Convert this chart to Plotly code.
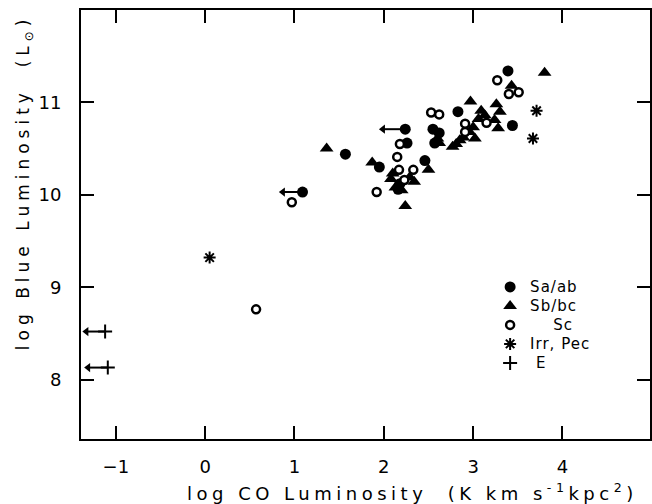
import plotly.graph_objects as go

# ---- data ----
sa_x = [1.09, 1.57, 1.95, 2.24, 2.26, 2.46, 2.18, 2.16, 2.55, 2.62, 2.57, 2.83, 3.39, 3.44]
sa_y = [10.03, 10.44, 10.30, 10.71, 10.56, 10.37, 10.12, 10.06, 10.71, 10.67, 10.56, 10.90, 11.34, 10.75]

sb_x = [1.36, 1.87, 2.10, 2.08, 2.29, 2.34, 2.20, 2.13, 2.24, 2.50, 2.62, 2.60, 2.77, 2.81, 2.85,
        2.89, 3.02, 2.96, 3.00, 2.97, 3.06, 3.09, 3.13, 3.24, 3.28, 3.26, 3.30, 3.43, 3.80]
sb_y = [10.50, 10.35, 10.23, 10.17, 10.19, 10.14, 10.05, 10.08, 9.88, 10.27, 10.56, 10.61, 10.52, 10.55, 10.59,
        10.62, 10.61, 10.68, 10.73, 11.01, 10.82, 10.91, 10.86, 10.81, 10.72, 10.98, 10.90, 11.18, 11.32]

sc_x = [0.57, 0.97, 1.92, 2.15, 2.18, 2.17, 2.33, 2.23, 2.53, 2.62, 2.91, 2.91, 3.15, 3.27, 3.40, 3.51]
sc_y = [8.76, 9.92, 10.03, 10.41, 10.55, 10.27, 10.27, 10.16, 10.89, 10.87, 10.77, 10.68, 10.78, 11.24, 11.09, 11.11]

irr_x = [0.05, 3.71, 3.67]
irr_y = [9.32, 10.91, 10.61]

e_x = [-1.12, -1.09]
e_y = [8.52, 8.13]

# upper limits in CO luminosity (arrows pointing left)
lim_x = [1.09, 2.24, -1.12, -1.09]
lim_y = [10.03, 10.71, 8.52, 8.13]
lim_tip = [0.87, 1.99, -1.33, -1.31]

x_ticks = [-1, 0, 1, 2, 3, 4]
y_ticks = [8, 9, 10, 11]

FONT = "DejaVu Sans"
BLACK = "black"

fig = go.Figure()

# arrow shafts
ax_, ay_ = [], []
for x0, x1, y in zip(lim_x, lim_tip, lim_y):
    ax_ += [x0, x1, None]
    ay_ += [y, y, None]
fig.add_trace(go.Scatter(x=ax_, y=ay_, mode="lines", line=dict(color=BLACK, width=2),
                         showlegend=False, hoverinfo="skip"))
fig.add_trace(go.Scatter(x=lim_tip, y=lim_y, mode="markers",
                         marker=dict(symbol="triangle-left", size=8, color=BLACK),
                         showlegend=False, hoverinfo="skip"))


def lab(s):
    return '<span style="font-size:15px;letter-spacing:1px">' + s + '</span>'


fig.add_trace(go.Scatter(x=sb_x, y=sb_y, mode="markers", name=lab("Sb/bc"), legendrank=2,
                         marker=dict(symbol="triangle-up", size=12, color=BLACK)))
fig.add_trace(go.Scatter(x=sa_x, y=sa_y, mode="markers", name=lab("Sa/ab"), legendrank=1,
                         marker=dict(symbol="circle", size=11, color=BLACK)))
fig.add_trace(go.Scatter(x=sc_x, y=sc_y, mode="markers", name=lab("&nbsp;&nbsp;&nbsp;&nbsp;Sc"), legendrank=3,
                         marker=dict(symbol="circle", size=8, color="white",
                                     line=dict(color=BLACK, width=2.5))))
fig.add_trace(go.Scatter(x=irr_x, y=irr_y, mode="markers", name=lab("Irr, Pec"), legendrank=4,
                         marker=dict(symbol="asterisk-open", size=10, color=BLACK,
                                     line=dict(color=BLACK, width=2))))
fig.add_trace(go.Scatter(x=e_x, y=e_y, mode="markers", name=lab("&nbsp;E"), legendrank=5,
                         marker=dict(symbol="cross-thin-open", size=10, color=BLACK,
                                     line=dict(color=BLACK, width=2))))

axis_common = dict(showline=True, linecolor=BLACK, linewidth=2, mirror="ticks",
                   ticks="inside", ticklen=13, tickwidth=2, tickcolor=BLACK,
                   showgrid=False, zeroline=False, automargin=False,
                   tickfont=dict(family=FONT, size=18, color=BLACK))

fig.update_xaxes(range=[-1.39, 4.98], tickvals=x_ticks, ticklabelstandoff=10, **axis_common)
fig.update_yaxes(range=[7.357, 12.0], tickvals=y_ticks, ticklabelstandoff=14, **axis_common)

fig.update_layout(
    template="none",
    width=652, height=504,
    margin=dict(l=81, r=2, t=10, b=65),
    paper_bgcolor="white", plot_bgcolor="white",
    font=dict(family=FONT, color=BLACK),
    legend=dict(x=0.719, y=0.266, xanchor="left", yanchor="middle",
                font=dict(family=FONT, size=12, color=BLACK),
                bgcolor="rgba(0,0,0,0)", borderwidth=0),
    annotations=[
        dict(text='<span style="letter-spacing:4.5px">log CO Luminosity&nbsp;&nbsp;(K km s<sup>-1</sup>kpc<sup>2</sup>)</span>',
             xref="paper", yref="paper", x=0.583, y=-0.123, xanchor="center", yanchor="middle",
             showarrow=False, font=dict(family=FONT, size=18, color=BLACK)),
        dict(text='<span style="letter-spacing:5px">log Blue Luminosity&nbsp;&nbsp;(L<sub>⊙</sub>)</span>',
             xref="paper", yref="paper", x=-0.1, y=0.599, xanchor="center", yanchor="middle",
             textangle=-90, showarrow=False, font=dict(family=FONT, size=17, color=BLACK)),
    ],
)

fig.write_html("out.html", config={"displayModeBar": False},
               post_script="document.body.style.margin='0px';document.body.style.overflow='hidden';")
